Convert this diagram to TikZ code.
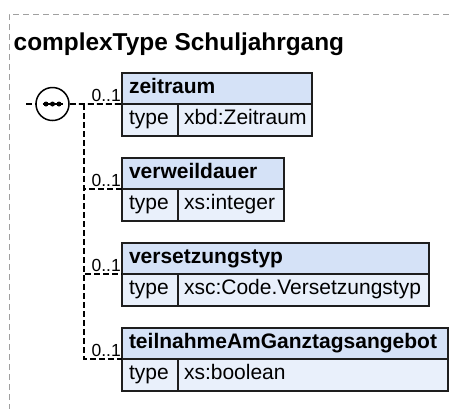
\documentclass[tikz,border=0pt]{standalone}
\usepackage{fontspec}
\setmainfont{Liberation Sans}
\usetikzlibrary{positioning}
\definecolor{headBlue}{RGB}{213,226,247}
\definecolor{typeBlue}{RGB}{233,240,251}
\definecolor{frameGray}{RGB}{160,160,160}
\definecolor{lineDark}{RGB}{30,30,30}
\tikzstyle{cellBox} = [shape=rectangle, draw=lineDark, line width=1.5bp, anchor=north west,
	outer sep=0pt, align=left, inner ysep=2bp, text height=14bp, text depth=5bp,
	font=\fontsize{21bp}{25bp}\selectfont]
\tikzstyle{HeadBox} = [cellBox, fill=headBlue, minimum height=31bp, inner xsep=7bp,
	font=\fontsize{21bp}{25bp}\selectfont\bfseries]
\tikzstyle{KeyBox} = [cellBox, fill=typeBlue, minimum height=32bp, inner xsep=7bp, text width=42bp]
\tikzstyle{ValBox} = [cellBox, fill=typeBlue, minimum height=32bp, inner xsep=6bp]
\tikzstyle{multLabel} = [anchor=base east, inner sep=0pt, xshift=-1bp, yshift=3bp,
	font=\fontsize{17.5bp}{21bp}\selectfont]
\tikzstyle{seqLine} = [draw=black, line width=1.6bp, dash pattern=on 6bp off 3bp]

\begin{document}
\begin{tikzpicture}[x=1bp, y=-1bp, node distance=22bp]
  \useasboundingbox (0,0) rectangle (450,408);
  \draw [frameGray, line width=1bp, dash pattern=on 6bp off 4bp] (9,420) |- (460,14);

  \node (TITLE) [anchor=base west, inner sep=0pt, font=\fontsize{24.4bp}{28bp}\selectfont\bfseries]
    at (13.5,50) {complexType Schuljahrgang};

  \node (ZEI) [HeadBox, text width=176bp] at (122,73) {zeitraum};
  \node (ZEIk) [KeyBox, below=0pt of ZEI.south west, anchor=north west] {type};
  \node (Zei) [ValBox, right=0pt of ZEIk.north east, anchor=north west, text width=122bp] {xbd:Zeitraum};

  \node (VER) [HeadBox, below=of ZEIk.south west, anchor=north west, text width=148bp] {verweildauer};
  \node (VERk) [KeyBox, below=0pt of VER.south west, anchor=north west] {type};
  \node (Ver) [ValBox, right=0pt of VERk.north east, anchor=north west, text width=94bp] {xs:integer};

  \node (VSZ) [HeadBox, below=of VERk.south west, anchor=north west, text width=293bp] {versetzungstyp};
  \node (VSZk) [KeyBox, below=0pt of VSZ.south west, anchor=north west] {type};
  \node (Vsz) [ValBox, right=0pt of VSZk.north east, anchor=north west, text width=239bp] {xsc:Code.Versetzungstyp};

  \node (TEI) [HeadBox, below=of VSZk.south west, anchor=north west, text width=312bp] {teilnahmeAmGanztagsangebot};
  \node (TEIk) [KeyBox, below=0pt of TEI.south west, anchor=north west] {type};
  \node (Tei) [ValBox, right=0pt of TEIk.north east, anchor=north west, text width=258bp] {xs:boolean};

  % sequence compositor
  \node (SEQ) [circle, draw=black, line width=1.5bp, fill=white, minimum size=33bp, inner sep=0pt]
    at (52.5,104) {};
  \draw [line width=1.5bp] ([xshift=-10bp]SEQ.center) -- ([xshift=10bp]SEQ.center);
  \foreach \dx in {-6.5,0,6.5}
    \fill ([xshift=\dx bp]SEQ.center) circle (2.5bp);

  \coordinate (IN) at (26,104);
  \coordinate (BUS) at (84,104);
  \draw [seqLine] (IN) -- (SEQ.west);
  \draw [seqLine] (SEQ.east) -- (ZEI.south west);
  \draw [seqLine] (BUS) |- (VER.south west);
  \draw [seqLine] (BUS) |- (VSZ.south west);
  \draw [seqLine] (BUS) |- (TEI.south west);

  \node [multLabel] at (ZEI.south west) {0..1};
  \node [multLabel] at (VER.south west) {0..1};
  \node [multLabel] at (VSZ.south west) {0..1};
  \node [multLabel] at (TEI.south west) {0..1};

\end{tikzpicture}
\end{document}
